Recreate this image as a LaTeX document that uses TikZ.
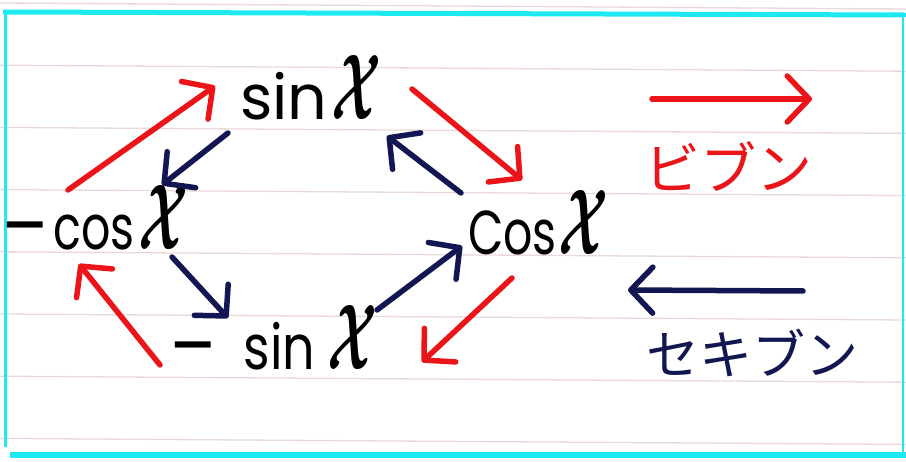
\documentclass[tikz,border=0pt]{standalone}
\usepackage{fontspec}
\setmainfont{Poppins}
\newfontfamily\jpfont{Noto Sans CJK JP}
\usetikzlibrary{arrows.meta}
\definecolor{hred}{RGB}{235,20,24}
\definecolor{hnavy}{RGB}{18,22,82}
\definecolor{rulecol}{RGB}{234,216,216}
\definecolor{bcyan}{RGB}{30,232,240}
\newcommand\fnfont{\fontsize{62}{62}\selectfont}
\newcommand\bigX{\resizebox{50pt}{64pt}{\boldmath$\mathcal{X}$}}
\newcommand\nar[2]{\scalebox{#1}[1]{#2}}
\newcommand\mns{\raisebox{-5pt}{\scalebox{1.45}[1.3]{−}}}
\begin{document}
\begin{tikzpicture}[x=1pt,y=-1pt,
  lbl/.style={anchor=base west, inner sep=0pt, font=\fnfont, text=black},
  arr/.style={line width=5.5pt, line cap=round, line join=round,
    -{Straight Barb[length=22pt,width=46pt,round]}},
  redarr/.style={arr, draw=hred},
  navyarr/.style={arr, draw=hnavy},
  jp/.style={inner sep=0pt}
]
\useasboundingbox (0,0) rectangle (906,462);
\fill[white] (0,0) rectangle (906,462);
% ruled lines
\foreach \k in {0,...,7}{
  \draw[rulecol, line width=1.3pt] (0,{3+62.2*\k}) -- (906,{9+62.2*\k});
}
% cyan frame
\draw[bcyan, line width=5pt, line cap=round] (5,12) -- (904,15);
\draw[bcyan, line width=3pt] (5,12) -- (5,447);
\draw[bcyan, line width=6pt] (10,455) -- (906,455);
\draw[bcyan, line width=2pt] (903,15) -- (903,455);

% function labels
\node[lbl] (sinx) at (240,120) {sin\hspace{4pt}\bigX};
\node[lbl] (mcosx) at (0,250) {\mns\hspace{4pt}\nar{0.74}{cos}\hspace{4pt}\bigX};
\node[lbl] (cosx) at (468,255) {\nar{0.74}{Cos}\hspace{2pt}\bigX};
\node[lbl] (msinx) at (168,370) {\mns\hspace{26pt}\nar{0.82}{sin}\hspace{12pt}\bigX};

% connector end points
\coordinate (r1a) at (68,190);  \coordinate (r1b) at (215,86);
\coordinate (n1a) at (228,133); \coordinate (n1b) at (162,185);
\coordinate (r2a) at (412,89);  \coordinate (r2b) at (522,180);
\coordinate (n2a) at (461,193); \coordinate (n2b) at (387,136);
\coordinate (r3a) at (512,278); \coordinate (r3b) at (422,362);
\coordinate (n3a) at (377,310); \coordinate (n3b) at (462,246);
\coordinate (r4a) at (160,365); \coordinate (r4b) at (79,264);
\coordinate (n4a) at (172,257); \coordinate (n4b) at (228,318);
\coordinate (lra) at (652,99);  \coordinate (lrb) at (812,99);
\coordinate (lna) at (803,291); \coordinate (lnb) at (628,290);

\draw[redarr] (r1a) -- (r1b);
\draw[navyarr] (n1a) -- (n1b);
\draw[redarr] (r2a) -- (r2b);
\draw[navyarr] (n2a) -- (n2b);
\draw[redarr] (r3a) -- (r3b);
\draw[navyarr] (n3a) -- (n3b);
\draw[redarr] (r4a) -- (r4b);
\draw[navyarr] (n4a) -- (n4b);

% legend
\draw[redarr] (lra) -- (lrb);
\node[jp, text=hred, font=\jpfont\fontsize{56}{56}\selectfont] (bibun) at (728,166) {ビブン};
\draw[navyarr] (lna) -- (lnb);
\node[jp, text=hnavy, font=\jpfont\fontsize{53}{53}\selectfont] (sekibun) at (752,353) {セキブン};
\end{tikzpicture}
\end{document}
